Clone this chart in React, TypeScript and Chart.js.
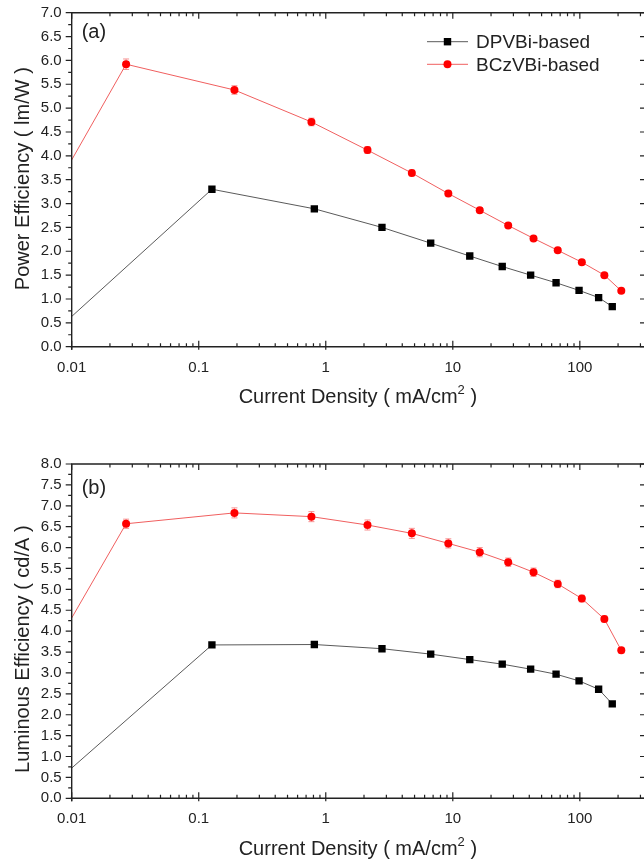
import React, { useEffect, useRef } from 'react';
import { Chart, registerables } from 'chart.js';

Chart.register(...registerables);

// ---------- data ----------
const seriesNames = ['DPVBi-based', 'BCzVBi-based'];

const xDPVBi = [0.007, 0.127, 0.813, 2.77, 6.7, 13.6, 24.5, 41.0, 65.0, 98.6, 140.6, 180];
const peDPVBi = [0.26, 3.3, 2.89, 2.5, 2.17, 1.9, 1.68, 1.5, 1.34, 1.18, 1.03, 0.84];
const leDPVBi = [0.31, 3.67, 3.68, 3.58, 3.45, 3.32, 3.21, 3.09, 2.97, 2.81, 2.61, 2.26];

const xBCzVBi = [0.007, 0.0268, 0.191, 0.771, 2.13, 4.76, 9.22, 16.3, 27.3, 43.2, 67.0, 103.7, 156, 212];
const peBCzVBi = [3.19, 5.92, 5.38, 4.71, 4.12, 3.64, 3.21, 2.86, 2.54, 2.27, 2.02, 1.77, 1.5, 1.17];
const leBCzVBi = [3.5, 6.57, 6.83, 6.74, 6.54, 6.34, 6.1, 5.89, 5.65, 5.41, 5.13, 4.78, 4.29, 3.54];
const peErrBCzVBi = [0.1, 0.11, 0.09, 0.08, 0.07, 0.06, 0.05, 0.05, 0.04, 0.04, 0.04, 0.04, 0.04, 0.04];
const leErrBCzVBi = [0.1, 0.11, 0.12, 0.12, 0.12, 0.12, 0.11, 0.11, 0.1, 0.1, 0.09, 0.08, 0.07, 0.06];

const xMajorTicks = [0.01, 0.1, 1, 10, 100];
const xMin = 0.01;
const xMax = 320;

const FONT = '"Liberation Sans", Arial, sans-serif';
const TEXT = '#222';

// ---------- plugins ----------
const errorBars = {
  id: 'errorBars',
  beforeDatasetsDraw(chart: any, _args: any, opts: any) {
    const errs: number[] | undefined = opts && opts.errors;
    if (!errs) return;
    const { ctx, chartArea: a, scales } = chart;
    const ds = chart.data.datasets[opts.datasetIndex];
    ctx.save();
    ctx.beginPath();
    ctx.rect(a.left, a.top, a.right - a.left, a.bottom - a.top);
    ctx.clip();
    ctx.strokeStyle = 'rgba(245,120,120,0.8)';
    ctx.lineWidth = 1;
    ds.data.forEach((p: any, i: number) => {
      const e = errs[i];
      if (!e) return;
      const px = scales.x.getPixelForValue(p.x);
      const y1 = scales.y.getPixelForValue(p.y - e);
      const y2 = scales.y.getPixelForValue(p.y + e);
      ctx.beginPath();
      ctx.moveTo(px, y1);
      ctx.lineTo(px, y2);
      ctx.moveTo(px - 3, y1);
      ctx.lineTo(px + 3, y1);
      ctx.moveTo(px - 3, y2);
      ctx.lineTo(px + 3, y2);
      ctx.stroke();
    });
    ctx.restore();
  },
};

const frameTicks = {
  id: 'frameTicks',
  afterDraw(chart: any) {
    const { ctx, chartArea: a, scales } = chart;
    const xs = scales.x;
    const ys = scales.y;
    ctx.save();
    ctx.strokeStyle = TEXT;
    ctx.lineWidth = 1.4;
    ctx.beginPath();
    ctx.moveTo(a.right, a.top);
    ctx.lineTo(a.left, a.top);
    ctx.lineTo(a.left, a.bottom + 3);
    ctx.moveTo(a.left - 1, a.bottom);
    ctx.lineTo(a.right, a.bottom);
    ctx.stroke();

    ctx.lineWidth = 1.2;
    ctx.beginPath();
    // x major ticks
    xMajorTicks.forEach((v) => {
      const px = xs.getPixelForValue(v);
      ctx.moveTo(px, a.bottom + 3);
      ctx.lineTo(px, a.bottom - 6);
      ctx.moveTo(px, a.top);
      ctx.lineTo(px, a.top + 6);
    });
    // x minor ticks
    for (let d = -2; d <= 2; d++) {
      for (let k = 2; k <= 9; k++) {
        const v = k * Math.pow(10, d);
        if (v >= xMax) continue;
        const px = xs.getPixelForValue(v);
        ctx.moveTo(px, a.bottom);
        ctx.lineTo(px, a.bottom - 3.5);
        ctx.moveTo(px, a.top);
        ctx.lineTo(px, a.top + 3.5);
      }
    }
    // y ticks
    const yMax = ys.max;
    for (let i = 0; i <= yMax * 4 + 0.001; i++) {
      const v = i * 0.25;
      const py = ys.getPixelForValue(v);
      const major = i % 2 === 0;
      ctx.moveTo(a.left - (major ? 6 : 3.5), py);
      ctx.lineTo(a.left, py);
      if (major) {
        ctx.moveTo(a.right - 4, py);
        ctx.lineTo(a.right, py);
      }
    }
    ctx.stroke();
    ctx.restore();
  },
};

const annotations = {
  id: 'annotations',
  afterDraw(chart: any, _args: any, opts: any) {
    const { ctx, chartArea: a } = chart;
    ctx.save();
    ctx.fillStyle = TEXT;
    // panel label
    ctx.font = `20px ${FONT}`;
    ctx.textAlign = 'left';
    ctx.textBaseline = 'middle';
    ctx.fillText(opts.panel, a.left + 10, a.top + opts.panelDy);

    // x title with superscript
    const cx = (a.left + a.right) / 2;
    const ty = a.bottom + 51;
    const p1 = 'Current Density ( mA/cm';
    const p2 = '2';
    const p3 = ' )';
    ctx.font = `20px ${FONT}`;
    const w1 = ctx.measureText(p1).width;
    const w3 = ctx.measureText(p3).width;
    ctx.font = `13px ${FONT}`;
    const w2 = ctx.measureText(p2).width;
    const total = w1 + w2 + w3;
    let sx = cx - total / 2;
    ctx.textAlign = 'left';
    ctx.font = `20px ${FONT}`;
    ctx.fillText(p1, sx, ty);
    sx += w1;
    ctx.font = `13px ${FONT}`;
    ctx.fillText(p2, sx, ty - 7);
    sx += w2;
    ctx.font = `20px ${FONT}`;
    ctx.fillText(p3, sx, ty);

    // y title
    ctx.save();
    ctx.translate(23, (a.top + a.bottom) / 2 + opts.yTitleDy);
    ctx.rotate(-Math.PI / 2);
    ctx.textAlign = 'center';
    ctx.textBaseline = 'middle';
    ctx.font = `20px ${FONT}`;
    ctx.fillText(opts.yTitle, 0, 0);
    ctx.restore();

    // legend
    if (opts.legend) {
      const ds = chart.data.datasets;
      const rows = [a.top + 29, a.top + 51.6];
      ds.forEach((d: any, i: number) => {
        const y = rows[i];
        ctx.strokeStyle = d.borderColor;
        ctx.lineWidth = 1;
        ctx.beginPath();
        ctx.moveTo(427, y);
        ctx.lineTo(468, y);
        ctx.stroke();
        ctx.fillStyle = d.pointBackgroundColor;
        if (d.pointStyle === 'rect') {
          ctx.fillRect(447.5 - 3.7, y - 3.7, 7.4, 7.4);
        } else {
          ctx.beginPath();
          ctx.arc(447.5, y, 4, 0, Math.PI * 2);
          ctx.fill();
        }
        ctx.fillStyle = TEXT;
        ctx.font = `19px ${FONT}`;
        ctx.textAlign = 'left';
        ctx.textBaseline = 'middle';
        ctx.fillText(d.label, 476, y + 1);
      });
    }
    ctx.restore();
  },
};

// ---------- chart builder ----------
function makeConfig(p: {
  black: number[];
  red: number[];
  redErr: number[];
  yMax: number;
  height: number;
  top: number;
  bottom: number;
  panel: string;
  panelDy: number;
  yTitle: string;
  yTitleDy: number;
  legend: boolean;
}): any {
  return {
    type: 'line',
    data: {
      datasets: [
        {
          label: seriesNames[0],
          data: xDPVBi.map((x, i) => ({ x, y: p.black[i] })),
          borderColor: '#5a5a5a',
          borderWidth: 1,
          pointStyle: 'rect',
          pointRadius: 5.2,
          pointBackgroundColor: '#000',
          pointBorderColor: '#000',
          pointBorderWidth: 0,
          tension: 0,
        },
        {
          label: seriesNames[1],
          data: xBCzVBi.map((x, i) => ({ x, y: p.red[i] })),
          borderColor: 'rgb(240,95,95)',
          borderWidth: 1,
          pointStyle: 'circle',
          pointRadius: 4,
          pointBackgroundColor: '#ff0000',
          pointBorderColor: '#ff0000',
          pointBorderWidth: 0,
          tension: 0,
        },
      ],
    },
    options: {
      animation: false,
      responsive: false,
      events: [],
      layout: { autoPadding: false, padding: { top: p.top, left: 0, right: 0, bottom: 0 } },
      plugins: {
        legend: { display: false },
        tooltip: { enabled: false },
        errorBars: { errors: p.redErr, datasetIndex: 1 },
        annotations: {
          panel: p.panel,
          panelDy: p.panelDy,
          yTitle: p.yTitle,
          yTitleDy: p.yTitleDy,
          legend: p.legend,
        },
      },
      scales: {
        x: {
          type: 'logarithmic',
          min: xMin,
          max: xMax,
          grid: { display: false, drawTicks: false },
          border: { display: false },
          afterBuildTicks: (scale: any) => {
            scale.ticks = xMajorTicks.map((v) => ({ value: v }));
          },
          afterFit: (scale: any) => {
            scale.height = p.height - p.bottom;
          },
          ticks: {
            autoSkip: false,
            maxRotation: 0,
            padding: 12,
            color: TEXT,
            font: { family: FONT, size: 15 },
            callback: (v: any) => String(v),
          },
        },
        y: {
          type: 'linear',
          min: 0,
          max: p.yMax,
          grid: { display: false, drawTicks: false },
          border: { display: false },
          afterFit: (scale: any) => {
            scale.width = 71.7;
          },
          ticks: {
            stepSize: 0.5,
            maxTicksLimit: 100,
            autoSkip: false,
            padding: 10,
            color: TEXT,
            font: { family: FONT, size: 15 },
            callback: (v: any) => Number(v).toFixed(1),
          },
        },
      },
    },
    plugins: [errorBars, frameTicks, annotations],
  };
}

function Panel(props: { cfg: any; width: number; height: number; top: number }) {
  const ref = useRef<HTMLCanvasElement | null>(null);
  useEffect(() => {
    if (!ref.current) return;
    const chart = new Chart(ref.current, props.cfg);
    return () => chart.destroy();
  }, []);
  return (
    <div style={{ position: 'absolute', left: 0, top: props.top, width: props.width, height: props.height }}>
      <canvas ref={ref} width={props.width} height={props.height} style={{ display: 'block' }} />
    </div>
  );
}

export default function App() {
  // top canvas starts 20px above the page so its plot top lands at y = 12.7
  const topCfg = makeConfig({
    black: peDPVBi,
    red: peBCzVBi,
    redErr: peErrBCzVBi,
    yMax: 7,
    height: 452,
    top: 32.7,
    bottom: 366.7,
    panel: '(a)',
    panelDy: 20,
    yTitle: 'Power Efficiency ( lm/W )',
    yTitleDy: -1,
    legend: true,
  });
  const bottomCfg = makeConfig({
    black: leDPVBi,
    red: leBCzVBi,
    redErr: leErrBCzVBi,
    yMax: 8,
    height: 431,
    top: 32,
    bottom: 366.3,
    panel: '(b)',
    panelDy: 24,
    yTitle: 'Luminous Efficiency ( cd/A )',
    yTitleDy: 18,
    legend: false,
  });
  return (
    <div style={{ position: 'absolute', left: 0, top: 0, width: 644, height: 863, overflow: 'hidden', background: '#fff' }}>
      <Panel cfg={topCfg} width={644} height={452} top={-20} />
      <Panel cfg={bottomCfg} width={644} height={431} top={432} />
    </div>
  );
}
